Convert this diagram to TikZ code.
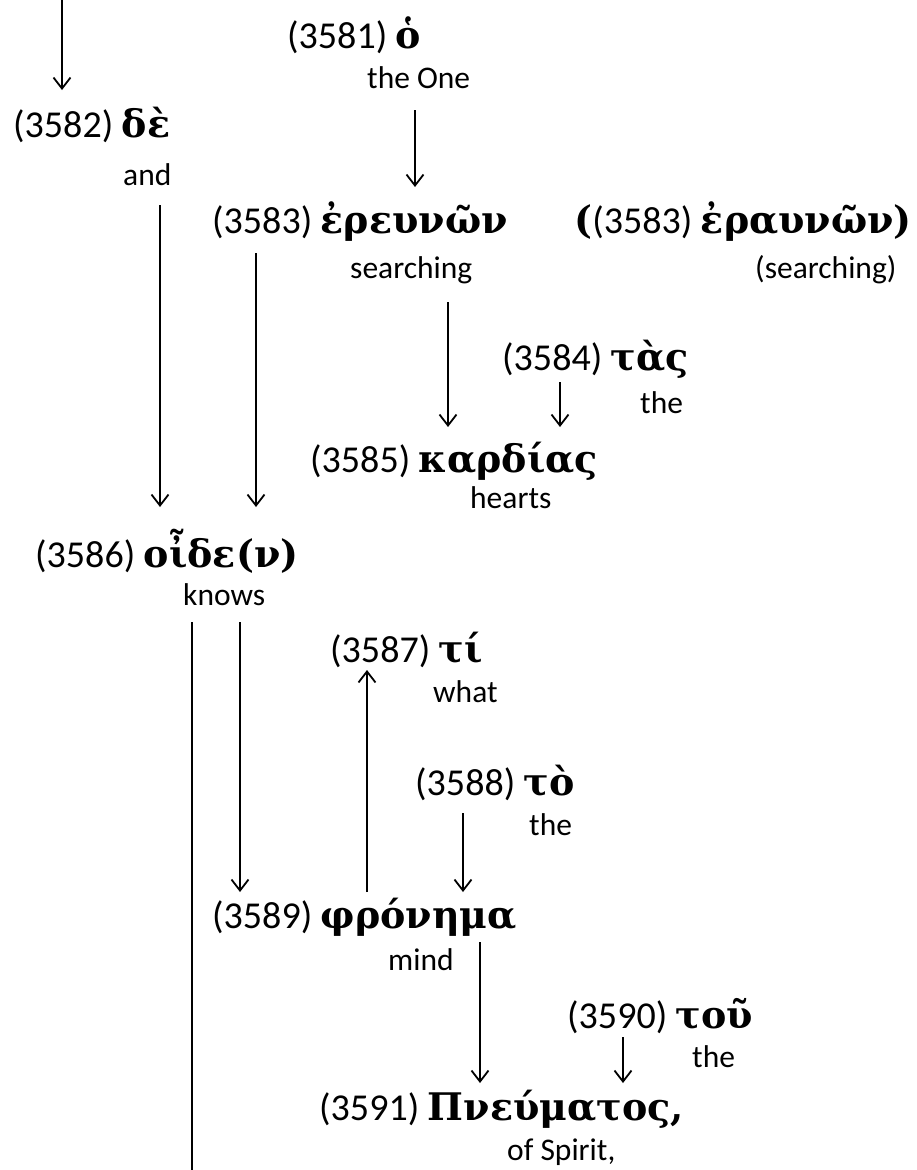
\documentclass[tikz,border=0pt]{standalone}
\usepackage{fontspec}
\setmainfont{Carlito}
\newfontfamily\gr{DejaVu Serif}
\usetikzlibrary{calc,arrows.meta}
\newcommand\gk[1]{{\gr\bfseries\fontsize{38}{42}\selectfont #1}}
\tikzset{
  num/.style={anchor=base west, inner sep=0pt, font=\fontsize{38}{42}\selectfont},
  gl/.style={anchor=base west, inner sep=0pt, font=\fontsize{31.5}{38}\selectfont},
  arr/.style={line width=1.8pt, -{Straight Barb[length=11pt,width=17pt,line width=1.8pt]}},
  ln/.style={line width=1.8pt},
}
\begin{document}
\begin{tikzpicture}[x=1pt,y=-1pt]
\useasboundingbox (0,0) rectangle (916,1170);
% words
\node[num] (n3581) at (287,48) {(3581) \gk{ὁ}};
\node[gl]  (g3581) at (367,88) {the One};
\node[num] (n3582) at (13,137) {(3582) \gk{δὲ}};
\node[gl]  (g3582) at (123,185) {and};
\node[num] (n3583) at (212,233) {(3583) \gk{ἐρευνῶν}};
\node[gl]  (g3583) at (350,278) {searching};
\node[num, anchor=base east] (n3583b) at (912,233) {\gk{(}(3583) \gk{ἐραυνῶν)}};
\node[gl]  (g3583b) at (755,278) {(searching)};
\node[num] (n3584) at (502,370) {(3584) \gk{τὰς}};
\node[gl]  (g3584) at (640,413) {the};
\node[num] (n3585) at (310,472) {(3585) \gk{καρδίας}};
\node[gl]  (g3585) at (470,508) {hearts};
\node[num] (n3586) at (35,567) {(3586) \gk{οἶδε(ν)}};
\node[gl]  (g3586) at (183,605) {knows};
\node[num] (n3587) at (330,662) {(3587) \gk{τί}};
\node[gl]  (g3587) at (433,702) {what};
\node[num] (n3588) at (415,795) {(3588) \gk{τὸ}};
\node[gl]  (g3588) at (529,835) {the};
\node[num] (n3589) at (212,928) {(3589) \gk{φρόνημα}};
\node[gl]  (g3589) at (388,970) {mind};
\node[num] (n3590) at (567,1028) {(3590) \gk{τοῦ}};
\node[gl]  (g3590) at (692,1067) {the};
\node[num] (n3591) at (319,1120) {(3591) \gk{Πνεύματος,}};
\node[gl]  (g3591) at (507,1160) {of Spirit,};
% free ends
\coordinate (top) at (62,0);
\coordinate (bottom) at (192,1170);
% connectors
\draw[arr] (top) -- ($(n3582.base -| top)+(0,-47)$);
\draw[arr] ($(g3581.base -| 415,0)+(0,22)$) -- ($(n3583.base -| 415,0)+(0,-46)$);
\draw[arr] ($(g3582.base -| 160,0)+(0,20)$) -- ($(n3586.base -| 160,0)+(0,-60)$);
\draw[arr] ($(n3583.base -| 256,0)+(0,20)$) -- ($(n3586.base -| 256,0)+(0,-60)$);
\draw[arr] ($(g3583.base -| 448,0)+(0,24)$) -- ($(n3585.base -| 448,0)+(0,-45)$);
\draw[arr] ($(n3584.base -| 560,0)+(0,12)$) -- ($(n3585.base -| 560,0)+(0,-45)$);
\draw[ln]  ($(g3586.base -| bottom)+(0,17)$) -- (bottom);
\draw[arr] ($(g3586.base -| 240,0)+(0,17)$) -- ($(n3589.base -| 240,0)+(0,-36)$);
\draw[arr] ($(n3589.base -| 367,0)+(0,-36)$) -- ($(n3587.base -| 367,0)+(0,8)$);
\draw[arr] ($(n3588.base -| 463,0)+(0,18)$) -- ($(n3589.base -| 463,0)+(0,-36)$);
\draw[arr] ($(n3589.base -| 480,0)+(0,14)$) -- ($(n3591.base -| 480,0)+(0,-37)$);
\draw[arr] ($(n3590.base -| 623,0)+(0,9)$) -- ($(n3591.base -| 623,0)+(0,-37)$);
\end{tikzpicture}
\end{document}
